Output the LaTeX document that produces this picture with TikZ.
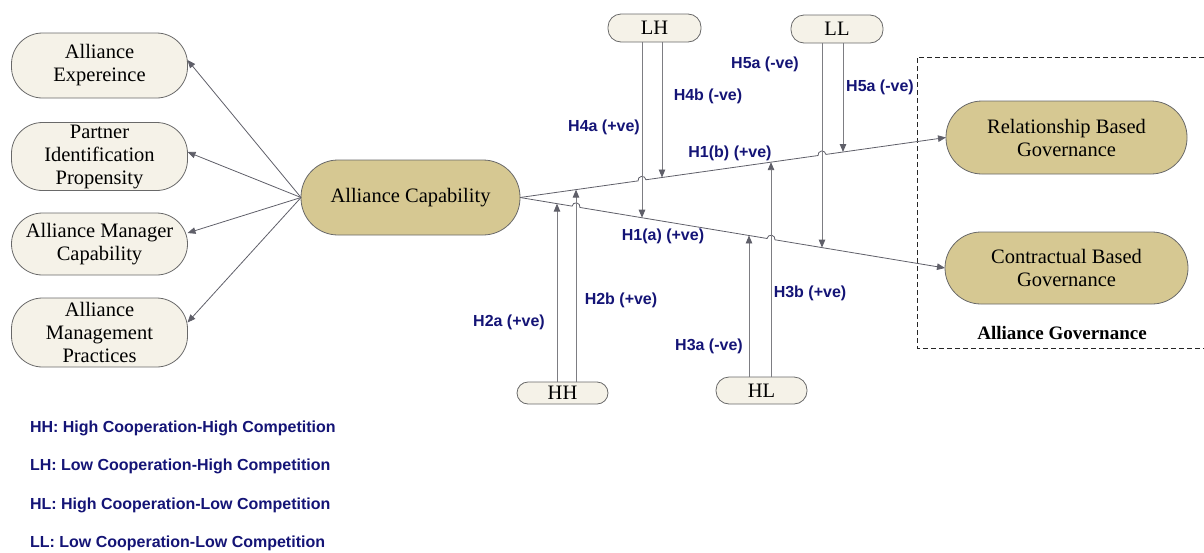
\documentclass[tikz,border=0pt]{standalone}
\usepackage{fontspec}
\setmainfont{Liberation Serif}
\newfontfamily\lblfont{Liberation Sans}
\usetikzlibrary{arrows.meta,calc}
\definecolor{lightfill}{RGB}{245,242,232}
\definecolor{tanfill}{RGB}{214,200,146}
\definecolor{navy}{RGB}{20,20,118}
\definecolor{edgegray}{RGB}{95,95,105}
\definecolor{linegray}{RGB}{125,125,130}
\definecolor{bordergray}{RGB}{105,105,105}
\begin{document}
\begin{tikzpicture}[x=1pt,y=1pt,
  every node/.style={inner sep=0pt,outer sep=0pt},
  concept/.style={rectangle,draw=bordergray,line width=0.8pt,align=center,
    font=\fontsize{20.5}{23}\selectfont},
  lightbox/.style={concept,fill=lightfill},
  tanbox/.style={concept,fill=tanfill},
  hyp/.style={font=\lblfont\bfseries\fontsize{16}{18}\selectfont,text=navy},
  legendtext/.style={hyp,anchor=west},
  link/.style={draw=edgegray,line width=0.8pt,-{Triangle[length=8pt,width=6.5pt,color=edgegray]}},
  vlink/.style={draw=linegray,line width=0.9pt,-{Triangle[length=8pt,width=6.5pt,color=edgegray]}}
]
\useasboundingbox (0,0) rectangle (1204,-552);

% left concepts
\node[lightbox,rounded corners=31pt,minimum width=176pt,minimum height=65pt] (AE) at (99.5,-65.5) {Alliance\\Expereince};
\node[lightbox,rounded corners=31pt,minimum width=176pt,minimum height=68pt] (PIP) at (99.5,-156.5) {Partner\\Identification\\Propensity};
\node[lightbox,rounded corners=31pt,minimum width=176pt,minimum height=62pt] (AMC) at (99.5,-244) {Alliance Manager\\Capability};
\node[lightbox,rounded corners=31pt,minimum width=176pt,minimum height=69pt] (AMP) at (99.5,-332.5) {Alliance\\Management\\Practices};

% central and governance
\node[tanbox,rounded corners=37pt,minimum width=219pt,minimum height=75pt] (AC) at (410.5,-197.5) {Alliance Capability};
\node[tanbox,rounded corners=36pt,minimum width=241pt,minimum height=73pt] (RBG) at (1066.5,-137.5) {Relationship Based\\Governance};
\node[tanbox,rounded corners=36pt,minimum width=243pt,minimum height=72pt] (CBG) at (1066.5,-268) {Contractual Based\\Governance};

% moderators
\node[lightbox,rounded corners=13pt,minimum width=93pt,minimum height=28pt] (LH) at (654.5,-28) {LH};
\node[lightbox,rounded corners=13pt,minimum width=92pt,minimum height=28pt] (LL) at (837,-29) {LL};
\node[lightbox,rounded corners=11pt,minimum width=91pt,minimum height=22pt] (HH) at (562.5,-393) {HH};
\node[lightbox,rounded corners=13pt,minimum width=91pt,minimum height=27pt] (HL) at (761.5,-390.5) {HL};

% dashed frame
\draw[draw=black!85,line width=0.8pt,dash pattern=on 5pt off 3pt] (1204,-57) -- (917,-57) -- (917,-348) -- (1204,-348);
\node[font=\bfseries\fontsize{19}{21}\selectfont] (AG) at (1062,-333) {Alliance Governance};

% left arrows
\draw[link] (AC.west) -- ($(AE.east)+(0,5.5)$);
\draw[link] (AC.west) -- ($(PIP.east)+(0,4.5)$);
\draw[link] (AC.west) -- ($(AMC.east)+(0,11)$);
\draw[link] (AC.west) -- ($(AMP.east)+(0,10)$);

% main paths with jumps
\draw[link] (AC.east) -- ($(AC.east)!0.27708!(RBG.west)$) arc[start angle=188.02,end angle=8.02,radius=4pt]
  -- ($(AC.east)!0.69962!(RBG.west)$) arc[start angle=188.02,end angle=8.02,radius=4pt] -- (RBG.west);
\draw[link] (AC.east) -- ($(AC.east)!0.12247!(CBG.west)$) arc[start angle=170.58,end angle=-9.42,radius=4pt]
  -- ($(AC.east)!0.58130!(CBG.west)$) arc[start angle=170.58,end angle=-9.42,radius=4pt] -- (CBG.west);

% points on the paths
\coordinate (lhA) at ($(AC.east)!0.28706!(CBG.west)$);
\coordinate (lhB) at ($(AC.east)!0.33333!(RBG.west)$);
\coordinate (llA) at ($(AC.east)!0.71059!(CBG.west)$);
\coordinate (llB) at ($(AC.east)!0.75822!(RBG.west)$);
\coordinate (hhA) at ($(AC.east)!0.08706!(CBG.west)$);
\coordinate (hhB) at ($(AC.east)!0.13146!(RBG.west)$);
\coordinate (hlA) at ($(AC.east)!0.53882!(CBG.west)$);
\coordinate (hlB) at ($(AC.east)!0.58920!(RBG.west)$);

% moderator arrows
\draw[vlink] (lhA |- LH.south) -- (lhA);
\draw[vlink] (lhB |- LH.south) -- (lhB);
\draw[vlink] (llA |- LL.south) -- (llA);
\draw[vlink] (llB |- LL.south) -- (llB);
\draw[vlink] (hhA |- HH.north) -- (hhA);
\draw[vlink] (hhB |- HH.north) -- (hhB);
\draw[vlink] (hlA |- HL.north) -- (hlA);
\draw[vlink] (hlB |- HL.north) -- (hlB);

% hypothesis labels
\node[hyp] (h4a) at (604,-127) {H4a (+ve)};
\node[hyp] (h4b) at (708,-96) {H4b (-ve)};
\node[hyp] (h5a1) at (765,-64) {H5a (-ve)};
\node[hyp] (h5a2) at (880,-87) {H5a (-ve)};
\node[hyp] (h1b) at (730,-153) {H1(b) (+ve)};
\node[hyp] (h1a) at (663,-236) {H1(a) (+ve)};
\node[hyp] (h2a) at (509,-322) {H2a (+ve)};
\node[hyp] (h2b) at (621,-300) {H2b (+ve)};
\node[hyp] (h3a) at (709,-346) {H3a (-ve)};
\node[hyp] (h3b) at (810,-293) {H3b (+ve)};

% legend
\node[legendtext] (lg1) at (30,-428) {HH: High Cooperation-High Competition};
\node[legendtext] (lg2) at (30,-466) {LH: Low Cooperation-High Competition};
\node[legendtext] (lg3) at (30,-505) {HL: High Cooperation-Low Competition};
\node[legendtext] (lg4) at (30,-543) {LL: Low Cooperation-Low Competition};
\end{tikzpicture}
\end{document}
